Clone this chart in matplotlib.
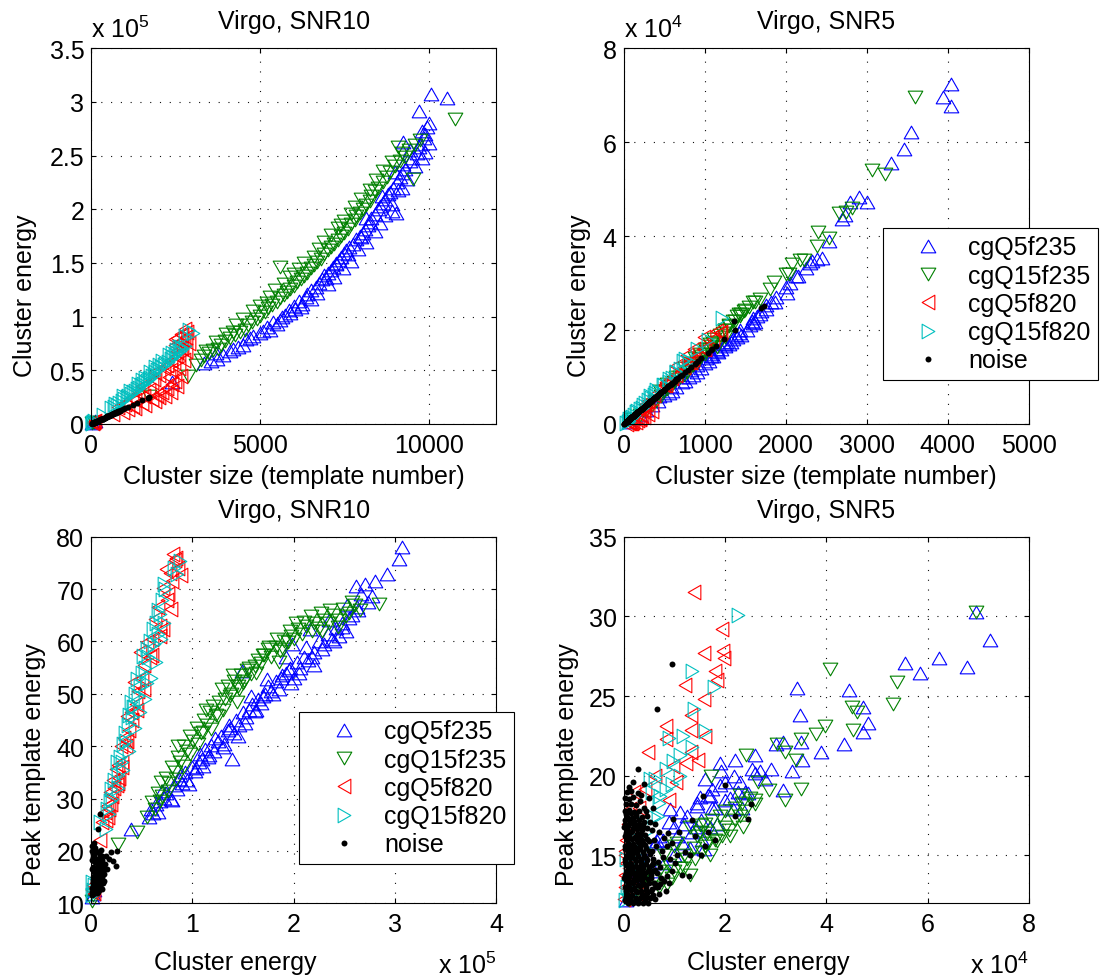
import matplotlib
matplotlib.use('Agg')
import matplotlib.pyplot as plt
from matplotlib.path import Path

plt.rcParams['font.family'] = ['Liberation Sans', 'DejaVu Sans']
plt.rcParams['mathtext.fontset'] = 'custom'
plt.rcParams['mathtext.rm'] = 'Liberation Sans'
plt.rcParams['mathtext.it'] = 'Liberation Sans:italic'
plt.rcParams['mathtext.bf'] = 'Liberation Sans:bold'
FS = 18

# ---------------- labels ----------------
series_labels = ['cgQ5f235', 'cgQ15f235', 'cgQ5f820', 'cgQ15f820', 'noise']
titles = ['Virgo, SNR10', 'Virgo, SNR5']

# ---------------- SNR10 (energy in units of 1e5) ----------------
blue10_size = [20, 60, 110, 2390, 3330, 3550, 3740, 3900, 4100, 4350,
               4500, 4600, 4800, 5000, 5200, 5300, 5400, 5500, 5650, 5750,
               5850, 6000, 6050, 6150, 6250, 6350, 6400, 6500, 6650, 6750,
               6850, 6950, 6900, 7000, 7100, 7150, 7250, 7250, 7350, 7400,
               7500, 7550, 7650, 7750, 7850, 7950, 8050, 8100, 8200, 8250,
               8300, 9040, 8400, 8500, 8550, 8650, 8700, 8800, 8850, 8950,
               9050, 9150, 9200, 9300, 9250, 9450, 9500, 9650, 9900, 9250,
               9700, 9750, 9850, 9900, 9800, 9950, 10000, 9700, 10057, 10545,
               3700, 4200, 4700, 5100, 5600, 5900, 6200, 6500, 6700, 7000,
               7200, 7450, 7700, 7600, 7900, 8150, 8000, 8400, 8550, 8150,
               8700, 8900, 8600, 9100, 9350, 9000, 9600, 9450, 9800, 10000,
               8900, 9200]
blue10_energy = [0.005, 0.015, 0.030, 0.39, 0.57, 0.59, 0.61, 0.64, 0.68, 0.72,
                 0.74, 0.79, 0.82, 0.85, 0.90, 0.88, 0.95, 0.93, 1.00, 1.02,
                 1.06, 1.10, 1.07, 1.15, 1.12, 1.18, 1.21, 1.25, 1.28, 1.31,
                 1.35, 1.36, 1.39, 1.41, 1.43, 1.46, 1.49, 1.50, 1.53, 1.56,
                 1.59, 1.62, 1.65, 1.68, 1.72, 1.75, 1.78, 1.82, 1.85, 1.88,
                 1.92, 1.97, 1.96, 2.00, 2.03, 2.06, 2.10, 2.14, 2.16, 2.20,
                 2.25, 2.30, 2.34, 2.38, 2.42, 2.45, 2.48, 2.52, 2.53, 2.63,
                 2.58, 2.61, 2.66, 2.70, 2.73, 2.77, 2.80, 2.92, 3.07, 3.04,
                 0.66, 0.70, 0.80, 0.87, 0.97, 1.03, 1.09, 1.16, 1.22, 1.30,
                 1.37, 1.45, 1.52, 1.58, 1.63, 1.70, 1.74, 1.80, 1.87, 1.92,
                 1.95, 2.05, 2.12, 2.18, 2.28, 2.35, 2.40, 2.55, 2.48, 2.62,
                 1.98, 2.20]
blue10_peak = [11.2, 11.8, 12.5, 24.2, 26.4, 28.0, 27.2, 29.0, 29.5, 30.2,
               31.0, 30.0, 32.5, 31.8, 33.0, 34.5, 33.5, 35.0, 36.0, 35.2,
               37.0, 36.3, 38.5, 38.0, 39.5, 40.2, 39.0, 41.0, 42.0, 40.5,
               43.0, 44.0, 37.6, 42.5, 45.0, 44.0, 54.4, 46.5, 45.5, 47.0,
               48.0, 46.8, 49.0, 48.2, 50.0, 51.5, 50.5, 52.5, 51.0, 53.5,
               54.0, 52.0, 55.0, 53.0, 56.0, 55.0, 57.0, 56.5, 62.4, 58.0,
               60.0, 59.5, 61.5, 60.5, 62.5, 61.0, 63.5, 62.0, 67.0, 66.0,
               65.0, 70.6, 69.0, 71.0, 67.5, 68.7, 71.5, 72.9, 78.0, 75.7,
               27.5, 31.5, 29.8, 33.8, 32.8, 35.8, 37.5, 38.3, 41.5, 39.8,
               43.5, 42.0, 44.5, 49.5, 47.0, 49.5, 52.8, 50.0, 53.0, 57.0,
               54.5, 54.0, 59.0, 57.0, 58.5, 64.0, 60.0, 64.5, 62.8, 66.5,
               59.5, 55.5]

green10_size = [30, 90, 1700, 2857, 3100, 3250, 3350, 3500, 3600, 3750,
                3850, 3950, 4100, 4250, 4400, 4550, 4650, 4750, 4900, 5000,
                5150, 5250, 5350, 5500, 5600, 5700, 5579, 5800, 5900, 6000,
                6100, 6200, 6300, 6400, 6500, 6600, 6700, 6800, 6900, 7000,
                7100, 7200, 7300, 7400, 7500, 7600, 7700, 7800, 7850, 7950,
                8050, 8150, 8250, 8300, 8400, 8500, 8650, 8750, 8850, 9530,
                9000, 9150, 9300, 9400, 9600, 9750, 10774,
                3400, 3700, 4000, 4300, 4500, 4800, 5000, 5300, 5450, 5700,
                5900, 6150, 6300, 6600, 6750, 6900, 7100, 7300, 7500, 7700,
                7800, 8000, 8250, 8450, 8650, 8900, 9200, 9100,
                4200, 5200, 6000, 7400]
green10_energy = [0.005, 0.02, 0.26, 0.45, 0.55, 0.60, 0.63, 0.66, 0.69, 0.70,
                  0.74, 0.77, 0.80, 0.83, 0.86, 0.88, 0.92, 0.95, 0.98, 1.01,
                  1.04, 1.08, 1.11, 1.14, 1.17, 1.20, 1.46, 1.23, 1.26, 1.29,
                  1.32, 1.35, 1.38, 1.41, 1.45, 1.48, 1.51, 1.54, 1.58, 1.62,
                  1.65, 1.68, 1.71, 1.75, 1.78, 1.82, 1.86, 1.90, 1.94, 1.97,
                  2.00, 2.04, 2.08, 2.12, 2.17, 2.20, 2.25, 2.30, 2.35, 2.28,
                  2.40, 2.45, 2.49, 2.55, 2.60, 2.65, 2.84,
                  0.68, 0.76, 0.84, 0.92, 0.98, 1.05, 1.10, 1.18, 1.25, 1.30,
                  1.37, 1.44, 1.50, 1.56, 1.63, 1.70, 1.76, 1.83, 1.89, 1.96,
                  2.02, 2.10, 2.18, 2.27, 2.36, 2.44, 2.52, 2.58,
                  0.86, 1.13, 1.40, 1.85]
green10_peak = [10.5, 11.5, 21.3, 23.6, 26.5, 29.3, 28.0, 31.0, 33.1, 30.5,
                34.0, 33.0, 36.0, 35.0, 38.0, 37.0, 40.0, 39.0, 42.0, 41.0,
                43.5, 42.5, 45.0, 44.0, 46.5, 47.7, 50.9, 46.0, 48.5, 50.9,
                49.0, 51.5, 50.0, 52.5, 51.5, 53.5, 52.5, 54.5, 53.8, 55.4,
                56.5, 55.8, 57.5, 58.6, 57.0, 59.0, 58.2, 60.0, 59.8, 61.0,
                60.5, 62.4, 61.5, 63.0, 64.9, 63.5, 62.5, 64.0, 63.5, 62.0,
                65.0, 64.0, 66.2, 65.5, 67.0, 66.0, 67.1,
                29.5, 31.5, 33.8, 36.2, 38.5, 40.5, 42.8, 43.2, 45.8, 47.0,
                49.5, 48.5, 52.0, 55.0, 54.0, 57.5, 59.0, 60.5, 58.5, 62.0,
                63.5, 63.8, 62.0, 65.5, 66.0, 62.8, 64.8, 67.5,
                40.0, 47.0, 53.5, 56.0]

red10_size = [40, 80, 120, 60, 650, 950, 1100, 800, 1250, 1000,
              1500, 1300, 1800, 1200, 1550, 1950, 1400, 2100, 1700, 2250,
              1500, 2400, 1800, 2480, 1850, 2300, 2000, 1900, 2350, 2150,
              2250, 2450, 2350, 2500, 2600, 2550, 2700, 2650, 2480, 2480,
              2800, 2780, 2850, 2700, 2600,
              1300, 1600, 1900, 2200, 2000, 2350, 2550, 2650, 2600, 2750,
              2800, 2900, 2550, 2650, 2750]
red10_energy = [0.010, 0.020, 0.030, 0.015, 0.09, 0.11, 0.14, 0.16, 0.17, 0.19,
                0.20, 0.22, 0.23, 0.24, 0.26, 0.27, 0.29, 0.30, 0.32, 0.34,
                0.35, 0.37, 0.39, 0.40, 0.42, 0.44, 0.46, 0.48, 0.50, 0.52,
                0.55, 0.58, 0.60, 0.63, 0.66, 0.68, 0.71, 0.71, 0.74, 0.79,
                0.81, 0.885, 0.86, 0.83, 0.76,
                0.15, 0.18, 0.21, 0.26, 0.25, 0.30, 0.35, 0.45, 0.52, 0.60,
                0.68, 0.75, 0.80, 0.84, 0.78]
red10_peak = [12.5, 13.0, 12.0, 13.5, 22.0, 25.5, 27.4, 28.5, 26.5, 31.2,
              29.0, 33.5, 32.0, 35.6, 36.5, 34.0, 40.1, 37.0, 41.5, 40.0,
              45.8, 43.0, 46.5, 45.0, 52.2, 48.0, 50.5, 58.0, 53.0, 55.5,
              59.9, 57.0, 60.5, 64.3, 66.5, 61.0, 62.4, 70.3, 73.9, 66.2,
              76.7, 72.6, 74.0, 75.5, 69.0,
              26.0, 28.0, 30.5, 33.0, 32.5, 36.0, 41.0, 47.0, 51.0, 57.5,
              63.0, 68.0, 71.5, 76.0, 73.0]

cyan10_size = [20, 50, 90, 30, 350, 600, 680, 760, 820, 900,
               960, 1050, 1100, 1180, 1250, 1300, 1350, 1420, 1480, 1520,
               1580, 1640, 1700, 1730, 1800, 1850, 1900, 1950, 2020, 2080,
               2150, 2200, 2280, 2350, 2420, 2480, 2550, 2620, 2700, 2780,
               2650, 2780, 3025, 2900,
               700, 950, 1150, 1400, 1600, 1750, 1900, 2100, 2300, 2500,
               2600, 1500, 2000, 2400]
cyan10_energy = [0.005, 0.015, 0.025, 0.010, 0.087, 0.15, 0.16, 0.18, 0.20, 0.21,
                 0.23, 0.25, 0.26, 0.28, 0.30, 0.31, 0.33, 0.34, 0.36, 0.37,
                 0.39, 0.40, 0.42, 0.43, 0.45, 0.46, 0.48, 0.50, 0.51, 0.53,
                 0.55, 0.56, 0.58, 0.61, 0.62, 0.64, 0.66, 0.68, 0.70, 0.73,
                 0.72, 0.82, 0.85, 0.877,
                 0.19, 0.26, 0.31, 0.37, 0.43, 0.48, 0.53, 0.59, 0.64, 0.69,
                 0.72, 0.41, 0.55, 0.66]
cyan10_peak = [11.5, 12.5, 13.5, 14.0, 25.5, 24.2, 28.0, 27.0, 31.8, 30.0,
               33.5, 36.9, 34.5, 38.0, 37.0, 40.5, 42.6, 41.0, 44.0, 46.0,
               48.4, 45.5, 47.5, 50.0, 52.8, 49.5, 51.5, 54.0, 57.3, 55.0,
               58.5, 57.0, 60.0, 62.4, 59.5, 63.5, 66.0, 65.2, 68.0, 70.0,
               71.0, 74.0, 72.8, 75.4,
               29.5, 32.0, 35.5, 39.0, 43.5, 46.5, 49.0, 53.0, 56.0, 60.5,
               63.5, 47.5, 52.0, 61.5]

noise10_size = [20, 45, 60, 85, 100, 125, 140, 165, 185, 205,
                225, 245, 265, 290, 305, 330, 350, 370, 390, 410,
                430, 450, 470, 495, 515, 535, 555, 575, 595, 615,
                635, 655, 680, 700, 720, 740, 760, 780, 800, 820,
                855, 890, 35, 55, 75, 95, 115, 135, 155, 175,
                600, 480, 1230, 1370, 1710, 1680, 1100, 1000, 1500, 950,
                70, 140, 205, 275, 340, 410, 480, 550, 615, 685,
                750, 340, 205, 105, 445]
noise10_energy = [0.003, 0.007, 0.009, 0.013, 0.015, 0.019, 0.021, 0.025, 0.027, 0.030,
                  0.033, 0.036, 0.039, 0.042, 0.045, 0.048, 0.051, 0.054, 0.057, 0.060,
                  0.063, 0.066, 0.069, 0.072, 0.075, 0.078, 0.081, 0.084, 0.087, 0.090,
                  0.093, 0.096, 0.099, 0.102, 0.105, 0.108, 0.111, 0.114, 0.117, 0.120,
                  0.125, 0.130, 0.005, 0.008, 0.011, 0.014, 0.017, 0.020, 0.023, 0.026,
                  0.087, 0.070, 0.180, 0.200, 0.250, 0.245, 0.160, 0.145, 0.220, 0.140,
                  0.010, 0.020, 0.030, 0.040, 0.050, 0.060, 0.070, 0.080, 0.090, 0.100,
                  0.110, 0.050, 0.030, 0.015, 0.065]
noise10_peak = [11.5, 13.0, 12.2, 15.0, 13.8, 17.0, 11.8, 16.0, 14.2, 19.0,
                12.8, 17.8, 15.5, 20.5, 13.5, 18.5, 16.5, 12.0, 14.8, 19.8,
                17.2, 13.2, 15.8, 18.0, 12.5, 16.8, 14.0, 19.2, 15.2, 17.5,
                13.0, 20.2, 16.2, 14.5, 18.2, 12.8, 15.0, 17.0, 13.8, 16.0,
                14.2, 15.5, 20.0, 18.2, 21.0, 19.5, 14.5, 12.5, 20.8, 18.0,
                27.0, 24.2, 18.5, 19.7, 20.0, 17.2, 16.5, 19.0, 18.0, 17.5,
                16.5, 14.0, 16.8, 12.5, 14.2, 17.0, 12.2, 18.5, 13.8, 15.8,
                19.0, 20.0, 21.5, 18.8, 15.0]

# ---------------- SNR5 (energy in units of 1e4) ----------------
blue5_size = [4039, 3939, 4039, 3550, 3463, 3299, 2900, 3009, 2792, 2727,
              2700, 2532, 2450, 2381, 2330, 2294, 2250, 2150, 2121, 2050,
              2000, 1880, 1818, 1760, 1700, 1688, 1620, 1600, 1560, 1520,
              1429, 1450, 1400, 1320, 1300, 1255, 1200, 1169, 1100, 1080,
              1050, 950, 900, 850, 760, 720, 650, 600, 560, 500,
              420, 350, 280, 200, 120, 60, 1250, 1350, 1150, 1600,
              1000, 800,
              580, 720, 900, 1080, 1260, 1440, 1650, 1760, 1150, 1370,
              1580, 1870, 2010, 830, 1010, 430]
blue5_energy = [7.24, 6.96, 6.77, 6.22, 5.86, 5.56, 4.83, 4.72, 4.72, 4.44,
                4.36, 3.90, 3.53, 3.51, 3.48, 3.43, 3.33, 3.15, 3.15, 3.00,
                2.91, 2.70, 2.59, 2.53, 2.40, 2.34, 2.17, 2.15, 2.10, 2.00,
                1.93, 1.90, 1.85, 1.75, 1.70, 1.66, 1.59, 1.53, 1.45, 1.44,
                1.35, 1.20, 1.11, 1.05, 0.92, 0.90, 0.78, 0.70, 0.65, 0.62,
                0.50, 0.40, 0.30, 0.20, 0.12, 0.05, 1.70, 1.80, 1.55, 2.25,
                1.30, 1.00,
                0.80, 1.00, 1.25, 1.50, 1.75, 2.00, 2.30, 2.45, 1.60, 1.90,
                2.20, 2.60, 2.80, 1.15, 1.40, 0.60]
blue5_peak = [28.5, 30.3, 26.8, 27.4, 26.45, 27.1, 23.3, 24.3, 22.75, 25.4,
              22.0, 21.5, 21.0, 22.1, 23.8, 25.5, 20.3, 22.1, 19.1, 22.0,
              20.4, 20.3, 20.2, 20.4, 19.0, 18.0, 20.0, 17.9, 18.6, 19.6,
              20.3, 19.4, 17.0, 19.2, 18.75, 18.8, 15.4, 17.2, 18.3, 18.1,
              16.5, 17.0, 17.7, 16.2, 17.9, 17.1, 16.0, 16.2, 15.9, 15.8,
              14.8, 15.5, 14.0, 13.5, 12.8, 12.2, 16.8, 18.0, 16.0, 19.0,
              15.5, 15.0,
              14.5, 16.8, 17.5, 18.7, 18.0, 18.5, 19.6, 18.9, 19.8, 20.8,
              21.0, 21.3, 19.8, 15.8, 16.8, 14.0]

green5_size = [3593, 3065, 3225, 2814, 2740, 2662, 2403, 2532, 2381, 2220,
               2180, 2078, 2035, 2000, 1861, 1800, 1688, 1602, 1500, 1429,
               1400, 1350, 1300, 1255, 1220, 1100, 1082, 1050, 1020, 1000,
               952, 930, 900, 860, 823, 780, 740, 700, 650, 620,
               580, 540, 500, 460, 400, 350, 280, 200, 120, 1150,
               1450, 1550, 1620, 1250, 1150,
               530, 640, 760, 880, 1000, 1120, 1250, 1370, 1490, 820,
               1060, 1300, 450, 940, 1190, 1430]
green5_energy = [6.96, 5.40, 5.32, 4.61, 4.52, 4.50, 4.08, 3.97, 3.80, 3.50,
                 3.50, 3.40, 3.19, 3.19, 3.02, 2.87, 2.66, 2.59, 2.42, 2.34,
                 2.30, 2.20, 2.08, 2.00, 1.94, 1.73, 1.67, 1.60, 1.55, 1.50,
                 1.45, 1.38, 1.30, 1.25, 1.20, 1.11, 1.05, 1.00, 0.95, 0.90,
                 0.80, 0.75, 0.70, 0.60, 0.48, 0.40, 0.30, 0.20, 0.10, 1.75,
                 2.35, 2.50, 2.60, 1.85, 1.65,
                 0.85, 1.00, 1.20, 1.40, 1.60, 1.80, 2.00, 2.20, 2.40, 1.30,
                 1.70, 2.10, 0.70, 1.50, 1.90, 2.30]
green5_peak = [30.3, 25.9, 24.5, 24.0, 22.9, 24.3, 26.7, 23.1, 22.6, 22.3,
               19.2, 21.0, 21.5, 18.45, 22.0, 19.1, 19.6, 18.5, 21.3, 18.3,
               17.5, 18.0, 16.6, 17.8, 16.25, 20.0, 15.8, 17.0, 15.2, 16.5,
               16.2, 15.5, 16.8, 14.8, 15.0, 14.2, 15.8, 15.6, 13.6, 14.4,
               15.0, 13.8, 14.0, 13.5, 12.9, 13.8, 13.0, 12.5, 12.2, 17.2,
               16.8, 18.6, 18.2, 15.9, 16.4,
               13.2, 14.0, 14.2, 14.8, 15.6, 16.0, 16.8, 17.2, 17.8, 13.8,
               15.0, 16.2, 13.0, 16.9, 17.5, 18.8]

red5_size = [850, 1190, 980, 1200, 1147, 1100, 740, 1000, 800, 500,
             830, 780, 520, 300, 600, 380, 270, 650, 996, 866,
             779, 649, 519, 250, 220, 200, 150, 100, 120, 80,
             60, 40, 90, 200, 250, 300, 350, 180]
red5_energy = [1.39, 1.94, 1.59, 1.96, 1.99, 1.80, 1.21, 1.59, 1.32, 0.83,
               1.32, 1.32, 0.83, 0.48, 0.97, 0.62, 0.42, 1.04, 1.85, 1.60,
               1.46, 1.24, 0.89, 0.30, 0.20, 0.12, 0.05, 0.03, 0.04, 0.02,
               0.02, 0.01, 0.03, 0.10, 0.15, 0.22, 0.28, 0.08]
red5_peak = [31.5, 29.2, 27.7, 27.8, 27.4, 26.6, 25.7, 24.8, 23.8, 23.1,
             22.85, 21.5, 22.3, 21.5, 20.6, 20.0, 19.2, 19.6, 26.0, 22.5,
             21.0, 20.8, 18.5, 18.0, 19.0, 17.9, 16.0, 15.0, 14.5, 13.8,
             13.0, 12.3, 15.3, 14.2, 13.5, 13.0, 12.6, 17.0]

cyan5_size = [1212, 800, 1039, 760, 700, 560, 650, 600, 909, 490,
              640, 380, 500, 340, 420, 736, 563, 390, 300, 400,
              330, 260, 220, 170, 130, 90, 60, 30, 100, 70,
              200, 240, 150, 50]
cyan5_energy = [2.26, 1.35, 1.78, 1.38, 1.18, 0.90, 1.11, 0.97, 1.60, 0.83,
                1.11, 0.62, 0.83, 0.55, 0.69, 1.35, 0.96, 0.67, 0.52, 0.72,
                0.60, 0.45, 0.35, 0.28, 0.20, 0.12, 0.06, 0.02, 0.15, 0.10,
                0.32, 0.40, 0.25, 0.05]
cyan5_peak = [30.1, 26.6, 25.6, 24.2, 22.5, 22.4, 21.3, 20.9, 22.8, 20.4,
              20.0, 19.8, 19.2, 19.0, 18.3, 21.8, 19.5, 17.5, 19.8, 18.75,
              17.4, 16.45, 17.1, 16.0, 15.0, 14.0, 13.0, 12.2, 13.0, 12.5,
              14.5, 15.5, 13.8, 14.8]

noise5_size = [20, 80, 150, 210, 290, 355,
               50, 115, 185, 255, 320, 400,
               15, 75, 145, 225, 300, 375, 440,
               40, 105, 180, 245, 330, 410,
               20, 80, 160, 220, 295, 370,
               55, 125, 190, 265, 340, 425,
               15, 90, 165, 240, 315, 390,
               50, 115, 200, 275, 350,
               20, 80, 150, 225, 310, 385,
               55, 125, 190, 260, 335,
               15, 75, 150, 220, 295,
               40, 110, 180, 255, 320,
               20, 80, 145, 210, 280,
               50, 110, 170, 245,
               15, 75, 135, 205,
               35, 95, 165,
               15, 70, 130,
               40, 105,
               495, 550, 590, 465, 515, 545, 630, 720, 790, 835, 890, 670,
               920, 600, 425, 480, 650, 755, 875, 1040, 1075, 1145, 395, 310,
               650, 450, 200, 125, 1370, 1690, 275, 240, 70, 340,
               1240, 1364, 1095, 960, 1732,
               425, 480, 465, 505, 450, 495, 535, 440, 410, 375,
               355, 315, 275, 225, 190, 575, 615, 660, 700, 580,
               55, 125, 190, 260, 330,
               35, 105, 170, 240, 310, 385,
               25, 95, 165, 235, 310, 365,
               55, 125, 190, 275, 345, 425,
               5, 70, 135, 205, 280, 365,
               50, 115, 185, 255, 330, 395,
               25, 95, 170, 235, 300, 375,
               15, 80, 160, 235, 310, 395,
               60, 130, 185, 260, 335,
               20, 90, 160, 225, 295,
               40, 110, 185, 245, 320,
               25, 95, 180, 240,
               5, 60, 130, 190, 265,
               20, 80, 145, 205,
               35, 105, 170]
noise5_energy = [0.03, 0.12, 0.22, 0.31, 0.42, 0.52,
                 0.07, 0.17, 0.27, 0.37, 0.47, 0.58,
                 0.02, 0.11, 0.21, 0.33, 0.44, 0.55, 0.64,
                 0.06, 0.15, 0.26, 0.36, 0.48, 0.60,
                 0.03, 0.12, 0.23, 0.32, 0.43, 0.54,
                 0.08, 0.18, 0.28, 0.39, 0.50, 0.62,
                 0.02, 0.13, 0.24, 0.35, 0.46, 0.57,
                 0.07, 0.17, 0.29, 0.40, 0.51,
                 0.03, 0.12, 0.22, 0.33, 0.45, 0.56,
                 0.08, 0.18, 0.28, 0.38, 0.49,
                 0.02, 0.11, 0.22, 0.32, 0.43,
                 0.06, 0.16, 0.26, 0.37, 0.47,
                 0.03, 0.12, 0.21, 0.31, 0.41,
                 0.07, 0.16, 0.25, 0.36,
                 0.02, 0.11, 0.20, 0.30,
                 0.05, 0.14, 0.24,
                 0.02, 0.10, 0.19,
                 0.06, 0.15,
                 0.72, 0.80, 0.86, 0.68, 0.75, 0.80, 0.92, 1.05, 1.15, 1.22, 1.30, 0.98,
                 1.34, 0.88, 0.62, 0.70, 0.95, 1.10, 1.28, 1.52, 1.57, 1.67, 0.58, 0.45,
                 0.95, 0.66, 0.29, 0.18, 2.00, 2.46, 0.40, 0.35, 0.10, 0.50,
                 1.81, 2.20, 1.60, 1.40, 2.52,
                 0.62, 0.70, 0.68, 0.74, 0.66, 0.72, 0.78, 0.64, 0.60, 0.55,
                 0.52, 0.46, 0.40, 0.33, 0.28, 0.84, 0.90, 0.96, 1.02, 0.85,
                 0.08, 0.18, 0.28, 0.38, 0.48,
                 0.05, 0.15, 0.25, 0.35, 0.45, 0.56,
                 0.04, 0.14, 0.24, 0.34, 0.45, 0.53,
                 0.08, 0.18, 0.28, 0.40, 0.50, 0.62,
                 0.01, 0.10, 0.20, 0.30, 0.41, 0.53,
                 0.07, 0.17, 0.27, 0.37, 0.48, 0.58,
                 0.04, 0.14, 0.25, 0.34, 0.44, 0.55,
                 0.02, 0.12, 0.23, 0.34, 0.45, 0.58,
                 0.09, 0.19, 0.27, 0.38, 0.49,
                 0.03, 0.13, 0.23, 0.33, 0.43,
                 0.06, 0.16, 0.27, 0.36, 0.47,
                 0.04, 0.14, 0.26, 0.35,
                 0.01, 0.09, 0.19, 0.28, 0.39,
                 0.03, 0.12, 0.21, 0.30,
                 0.05, 0.15, 0.25]
noise5_peak = [12.2, 12.3, 12.15, 12.25, 12.2, 12.35,
               12.6, 12.55, 12.7, 12.6, 12.65, 12.5,
               13.0, 13.05, 12.95, 13.1, 13.0, 12.9, 13.05,
               13.4, 13.35, 13.45, 13.4, 13.5, 13.3,
               13.8, 13.85, 13.75, 13.8, 13.9, 13.8,
               14.2, 14.25, 14.15, 14.2, 14.3, 14.1,
               14.6, 14.55, 14.65, 14.6, 14.7, 14.5,
               15.0, 15.05, 14.95, 15.0, 15.1,
               15.4, 15.45, 15.35, 15.4, 15.5, 15.3,
               15.8, 15.75, 15.85, 15.8, 15.9,
               16.2, 16.25, 16.15, 16.2, 16.3,
               16.6, 16.55, 16.65, 16.6, 16.7,
               17.0, 17.05, 16.95, 17.0, 17.1,
               17.4, 17.35, 17.45, 17.4,
               17.8, 17.85, 17.75, 17.8,
               18.2, 18.25, 18.15,
               18.6, 18.55, 18.65,
               19.0, 19.05,
               13.2, 13.4, 13.7, 14.6, 15.3, 16.1, 14.8, 15.0, 13.8, 15.2, 15.0, 17.3,
               17.2, 16.4, 17.0, 16.5, 15.8, 16.5, 13.7, 15.0, 18.75, 16.45, 18.0, 17.8,
               27.0, 24.2, 20.4, 19.6, 19.4, 17.3, 19.5, 18.8, 19.3, 18.6,
               16.0, 17.5, 15.6, 16.2, 18.2,
               12.3, 12.6, 13.0, 13.6, 13.9, 14.3, 14.9, 15.6, 16.0, 16.6,
               17.1, 17.5, 18.0, 18.4, 18.9, 12.8, 13.3, 14.0, 14.5, 15.6,
               12.05, 12.0, 12.05, 12.0, 12.05,
               12.4, 12.45, 12.35, 12.4, 12.45, 12.4,
               12.8, 12.85, 12.75, 12.8, 12.85, 12.8,
               13.2, 13.25, 13.15, 13.2, 13.25, 13.2,
               13.6, 13.65, 13.55, 13.6, 13.65, 13.6,
               14.0, 14.05, 13.95, 14.0, 14.05, 14.0,
               14.4, 14.45, 14.35, 14.4, 14.45, 14.4,
               14.8, 14.85, 14.75, 14.8, 14.85, 14.8,
               15.2, 15.25, 15.15, 15.2, 15.25,
               15.6, 15.65, 15.55, 15.6, 15.65,
               16.0, 16.05, 15.95, 16.0, 16.05,
               16.4, 16.45, 16.35, 16.4,
               16.8, 16.85, 16.75, 16.8, 16.85,
               17.2, 17.25, 17.15, 17.2,
               17.6, 17.65, 17.55]

# ---------------- figure ----------------
W, H = 1100, 979
fig = plt.figure(figsize=(W / 100, H / 100), dpi=100)


def px_axes(left, top, right, bottom):
    return fig.add_axes([left / W, 1 - bottom / H, (right - left) / W, (bottom - top) / H])


ax_tl = px_axes(91.2, 49.3, 496.3, 425.0)
ax_tr = px_axes(623.7, 49.3, 1028.8, 425.0)
ax_bl = px_axes(91.2, 537.7, 496.3, 904.3)
ax_br = px_axes(623.7, 537.7, 1028.8, 904.3)

C = [Path.MOVETO, Path.LINETO, Path.LINETO, Path.CLOSEPOLY]
tri_up = Path([(0, 0.87), (-1, -0.87), (1, -0.87), (0, 0.87)], C)
tri_down = Path([(0, -0.87), (-1, 0.87), (1, 0.87), (0, -0.87)], C)
tri_left = Path([(-0.87, 0), (0.87, 1), (0.87, -1), (-0.87, 0)], C)
tri_right = Path([(0.87, 0), (-0.87, 1), (-0.87, -1), (0.87, 0)], C)

colors = ['#0000ff', '#008000', '#ff0000', '#00bfbf', '#000000']
markers = [tri_up, tri_down, tri_left, tri_right]
MS = 10.5


def draw_panel(ax, xs, ys):
    handles = []
    for i in range(4):
        h, = ax.plot(xs[i], ys[i], linestyle='none', marker=markers[i], ms=MS,
                     mfc='none', mec=colors[i], mew=0.8, label=series_labels[i],
                     clip_on=False, zorder=2 + i * 0.1)
        handles.append(h)
    h, = ax.plot(xs[4], ys[4], linestyle='none', marker='o', ms=4.3, mfc='k',
                 mec='none', label=series_labels[4], clip_on=False, zorder=2.5)
    handles.append(h)
    return handles


def style(ax, xlim, ylim, xticks, yticks, xtl, ytl):
    ax.set_xlim(xlim)
    ax.set_ylim(ylim)
    ax.set_xticks(xticks)
    ax.set_yticks(yticks)
    ax.set_xticklabels(xtl)
    ax.set_yticklabels(ytl)
    ax.tick_params(direction='in', length=3.5, width=0.8, top=True, right=True,
                   labelsize=FS)
    ax.tick_params(axis='x', pad=6.5)
    ax.tick_params(axis='y', pad=5)
    ax.grid(True, color='#111111', linestyle=(0, (1, 7.8)), linewidth=0.8)
    ax.set_axisbelow(True)
    for sp in ax.spines.values():
        sp.set_linewidth(0.8)


# top-left: SNR10 size vs energy
draw_panel(ax_tl,
           [blue10_size, green10_size, red10_size, cyan10_size, noise10_size],
           [blue10_energy, green10_energy, red10_energy, cyan10_energy, noise10_energy])
style(ax_tl, (0, 12000), (0, 3.5), [0, 5000, 10000], [0, 0.5, 1, 1.5, 2, 2.5, 3, 3.5],
      ['0', '5000', '10000'], ['0', '0.5', '1', '1.5', '2', '2.5', '3', '3.5'])

# top-right: SNR5 size vs energy
h_tr = draw_panel(ax_tr,
                  [blue5_size, green5_size, red5_size, cyan5_size, noise5_size],
                  [blue5_energy, green5_energy, red5_energy, cyan5_energy, noise5_energy])
style(ax_tr, (0, 5000), (0, 8), [0, 1000, 2000, 3000, 4000, 5000], [0, 2, 4, 6, 8],
      ['0', '1000', '2000', '3000', '4000', '5000'], ['0', '2', '4', '6', '8'])

# bottom-left: SNR10 energy vs peak
h_bl = draw_panel(ax_bl,
                  [blue10_energy, green10_energy, red10_energy, cyan10_energy, noise10_energy],
                  [blue10_peak, green10_peak, red10_peak, cyan10_peak, noise10_peak])
style(ax_bl, (0, 4), (10, 80), [0, 1, 2, 3, 4], [10, 20, 30, 40, 50, 60, 70, 80],
      ['0', '1', '2', '3', '4'], ['10', '20', '30', '40', '50', '60', '70', '80'])

# bottom-right: SNR5 energy vs peak
draw_panel(ax_br,
           [blue5_energy, green5_energy, red5_energy, cyan5_energy, noise5_energy],
           [blue5_peak, green5_peak, red5_peak, cyan5_peak, noise5_peak])
style(ax_br, (0, 8), (12, 35), [0, 2, 4, 6, 8], [15, 20, 25, 30, 35],
      ['0', '2', '4', '6', '8'], ['15', '20', '25', '30', '35'])

# titles
for ax, t in [(ax_tl, titles[0]), (ax_tr, titles[1]), (ax_bl, titles[0]), (ax_br, titles[1])]:
    ax.text(0.5, 1.054, t, transform=ax.transAxes, ha='center', va='baseline', fontsize=FS)

# multiplier texts
ax_tl.text(0.0, 1.030, r'x 10$^{\mathregular{5}}$', transform=ax_tl.transAxes,
           ha='left', va='baseline', fontsize=FS)
ax_tr.text(0.0, 1.030, r'x 10$^{\mathregular{4}}$', transform=ax_tr.transAxes,
           ha='left', va='baseline', fontsize=FS)
ax_bl.text(1.0, -0.190, r'x 10$^{\mathregular{5}}$', transform=ax_bl.transAxes,
           ha='right', va='baseline', fontsize=FS)
ax_br.text(1.0, -0.190, r'x 10$^{\mathregular{4}}$', transform=ax_br.transAxes,
           ha='right', va='baseline', fontsize=FS)

# axis labels
ax_tl.set_xlabel('Cluster size (template number)', fontsize=FS)
ax_tl.xaxis.set_label_coords(0.5, -0.157)
ax_tr.set_xlabel('Cluster size (template number)', fontsize=FS)
ax_tr.xaxis.set_label_coords(0.5, -0.157)
ax_bl.set_xlabel('Cluster energy', fontsize=FS)
ax_bl.xaxis.set_label_coords(0.355, -0.179)
ax_br.set_xlabel('Cluster energy', fontsize=FS)
ax_br.xaxis.set_label_coords(0.356, -0.179)
for ax in (ax_tl, ax_tr, ax_bl, ax_br):
    ax.xaxis.label.set_verticalalignment('baseline')

ax_tl.set_ylabel('Cluster energy', fontsize=FS)
ax_tl.yaxis.set_label_coords(-0.163, 0.345)
ax_tr.set_ylabel('Cluster energy', fontsize=FS)
ax_tr.yaxis.set_label_coords(-0.111, 0.345)
ax_bl.set_ylabel('Peak template energy', fontsize=FS)
ax_bl.yaxis.set_label_coords(-0.141, 0.380)
ax_br.set_ylabel('Peak template energy', fontsize=FS)
ax_br.yaxis.set_label_coords(-0.141, 0.380)
for ax in (ax_tl, ax_tr, ax_bl, ax_br):
    ax.yaxis.label.set_verticalalignment('center')

# legends
for ax, handles, (lx, ly) in [(ax_tr, h_tr, (883, 229)), (ax_bl, h_bl, (299, 713))]:
    leg = ax.legend(handles, series_labels, loc='upper left',
                    bbox_to_anchor=(lx / W, 1 - ly / H), bbox_transform=fig.transFigure,
                    fontsize=FS, frameon=True, fancybox=False, edgecolor='k',
                    framealpha=1, borderpad=0.3, handlelength=3.0, handletextpad=0.1,
                    labelspacing=0.17, borderaxespad=0, numpoints=1)
    leg.get_frame().set_linewidth(0.8)
    leg.set_zorder(10)

fig.savefig('out.png', dpi=100)
